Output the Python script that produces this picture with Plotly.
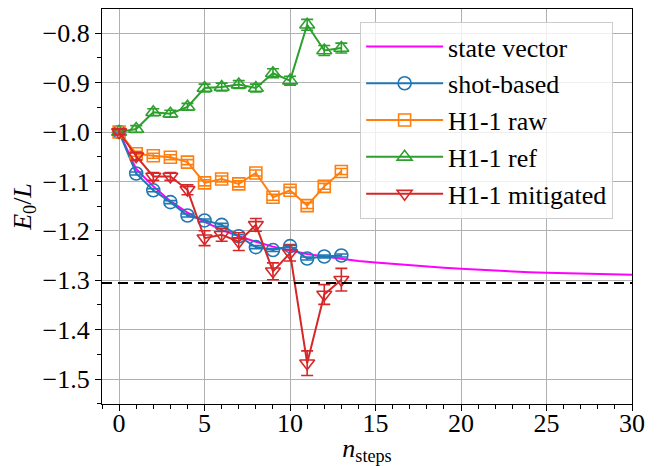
import plotly.graph_objects as go

# ---- data ----
steps = list(range(14))
sv_steps = list(range(31))
state_vector = [-1.000, -1.075, -1.110, -1.140, -1.163, -1.182, -1.198, -1.211, -1.222, -1.232,
                -1.240, -1.247, -1.252, -1.257, -1.261, -1.264, -1.267, -1.270, -1.273, -1.275,
                -1.277, -1.279, -1.281, -1.282, -1.284, -1.285, -1.286, -1.287, -1.288, -1.289, -1.289]
shot_based = [-1.000, -1.084, -1.118, -1.142, -1.169, -1.179, -1.188, -1.211, -1.233, -1.239,
              -1.231, -1.256, -1.252, -1.250]
shot_err = [0.002, 0.003, 0.003, 0.003, 0.003, 0.003, 0.003, 0.003, 0.003, 0.003, 0.003, 0.003, 0.003, 0.003]
h1_raw = [-1.000, -1.044, -1.048, -1.051, -1.061, -1.103, -1.095, -1.105, -1.083, -1.132,
          -1.118, -1.149, -1.110, -1.080]
raw_err = [0.004, 0.005, 0.005, 0.005, 0.005, 0.006, 0.006, 0.006, 0.006, 0.006, 0.006, 0.006, 0.006, 0.006]
h1_ref = [-1.000, -0.994, -0.960, -0.963, -0.949, -0.911, -0.909, -0.904, -0.911, -0.881,
          -0.896, -0.783, -0.835, -0.830]
ref_err = [0.005, 0.007, 0.007, 0.007, 0.007, 0.008, 0.008, 0.008, 0.008, 0.009, 0.009, 0.011, 0.010, 0.010]
h1_mit = [-1.000, -1.049, -1.090, -1.090, -1.117, -1.215, -1.208, -1.222, -1.188, -1.282,
          -1.245, -1.468, -1.329, -1.299]
mit_err = [0.005, 0.008, 0.008, 0.008, 0.010, 0.015, 0.013, 0.018, 0.013, 0.017, 0.016, 0.025, 0.020, 0.023]
exact_value = -1.3057
y_ticks = [-1.5, -1.4, -1.3, -1.2, -1.1, -1.0, -0.9, -0.8]
x_ticks = [0, 5, 10, 15, 20, 25, 30]

FONT = "Times New Roman, Liberation Serif, serif"
BLUE, ORANGE, GREEN, RED = "#1f77b4", "#ff7f0e", "#2ca02c", "#d62728"

fig = go.Figure()
fig.add_trace(go.Scatter(x=sv_steps, y=state_vector, mode="lines", name="state vector",
                         line=dict(color="#ff00ff", width=2)))

def add_series(y, err, name, color, symbol, size):
    fig.add_trace(go.Scatter(
        x=steps, y=y, mode="lines+markers", name=name,
        line=dict(color=color, width=2),
        marker=dict(symbol=symbol, size=size, color=color, line=dict(color=color, width=1.6)),
        error_y=dict(type="data", array=err, visible=True, color=color, thickness=1.6, width=6),
    ))

add_series(shot_based, shot_err, "shot-based", BLUE, "circle-open", 13)
add_series(h1_raw, raw_err, "H1-1 raw", ORANGE, "square-open", 12)
add_series(h1_ref, ref_err, "H1-1 ref", GREEN, "triangle-up-open", 13)
add_series(h1_mit, mit_err, "H1-1 mitigated", RED, "triangle-down-open", 13)

fig.add_hline(y=exact_value, line=dict(color="black", width=2, dash="10px,6px"))

axis_common = dict(showline=True, mirror=True, linecolor="black", linewidth=1.3,
                   showgrid=True, gridcolor="#b0b0b0", gridwidth=1, zeroline=False,
                   ticks="outside", ticklen=6, tickwidth=1.2, tickcolor="black",
                   tickfont=dict(family=FONT, size=26, color="black"))

fig.update_xaxes(range=[-1, 30], tickvals=x_ticks, ticklabelstandoff=-10,
                 minor=dict(dtick=1, tick0=0, ticks="outside", ticklen=3.5, tickcolor="black", showgrid=False),
                 title=dict(text="<i>n</i><sub>steps</sub>", font=dict(family=FONT, size=26, color="black"), standoff=0),
                 **axis_common)
fig.update_yaxes(range=[-1.5506, -0.751], tickvals=y_ticks, tickformat=".1f",
                 minor=dict(dtick=0.05, tick0=0, ticks="outside", ticklen=3.5, tickcolor="black", showgrid=False),
                 title=dict(text="<i>E</i><sub>0</sub>/<i>L</i>", font=dict(family=FONT, size=26, color="black"), standoff=8),
                 **axis_common)

# page body has an 8px default margin: shift figure by reducing size/margins
fig.update_layout(
    width=651, height=458,
    margin=dict(l=94, r=27, t=1, b=62, autoexpand=False),
    plot_bgcolor="white", paper_bgcolor="white",
    font=dict(family=FONT, size=26, color="black"),
    legend=dict(x=0.487, y=0.967, xanchor="left", yanchor="top", itemwidth=77,
                bgcolor="rgba(255,255,255,0.8)", bordercolor="#cccccc", borderwidth=1,
                font=dict(family=FONT, size=26, color="black")),
)

fig.write_html("out.html")
